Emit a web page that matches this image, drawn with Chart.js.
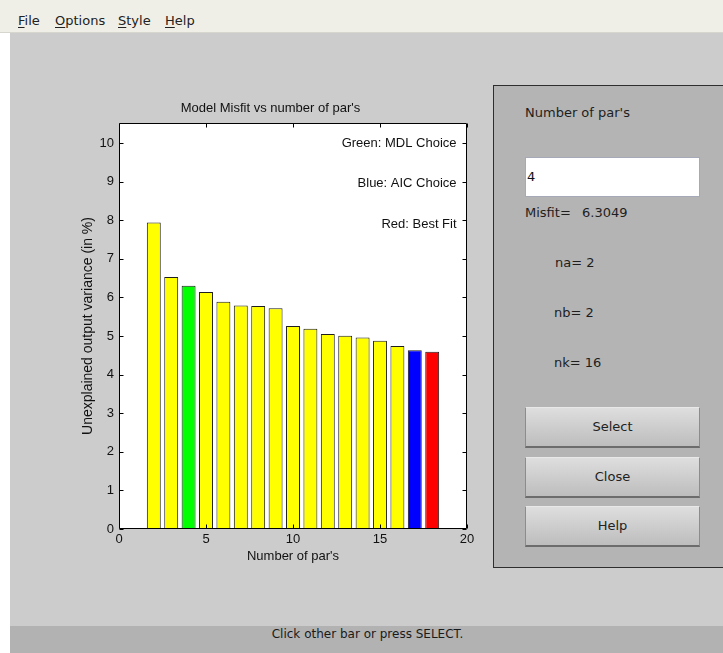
<!DOCTYPE html>
<html>
<head>
<meta charset="utf-8">
<script src="https://cdn.jsdelivr.net/npm/chart.js@4/dist/chart.umd.min.js"></script>
<style>
  html, body { margin: 0; padding: 0; }
  body { width: 723px; height: 653px; position: relative; overflow: hidden; background: #cccccc;
         font-family: "DejaVu Sans", sans-serif; font-size: 13px; color: #1a1a1a; }
  .abs { position: absolute; white-space: nowrap; }
  #menubar { left: 0; top: 0; width: 723px; height: 32px; background: #efefe8; border-bottom: 1px solid #d6d6cf; }
  #menubar span { position: absolute; top: 13px; line-height: 16px; color: #222; }
  #menubar u { text-decoration: underline; text-underline-offset: 2px; }
  #leftstrip { left: 0; top: 33px; width: 10px; height: 620px; background: #ffffff; }
  #plot { left: 74px; top: 95px; }
  #panel { left: 493px; top: 85px; width: 240px; height: 481px; background: #b4b4b4;
           border: 1px solid #2e2e2e; }
  .ptext { line-height: 16px; color: #1e1e1e; }
  #edit { left: 525px; top: 157px; width: 173px; height: 38px; background: #ffffff;
          border: 1px solid #a6aab8; }
  #edit span { position: absolute; left: 1px; top: 11px; line-height: 16px; color: #111; }
  .btn { left: 525px; width: 173px; height: 38px; border: 1px solid #8c8c8c; border-top-color: #e8e8e8;
         border-bottom: 2px solid #6c6c6c; background: linear-gradient(#dedede, #bdbdbd);
         text-align: center; line-height: 38px; color: #222; }
  #status { left: 10px; top: 626px; width: 713px; height: 27px; background: #b2b2b2;
            text-align: center; font-size: 12px; line-height: 16px; }
  #status span { position: absolute; left: 0; right: 0; top: 0; text-align: center; padding-left: 2px; }
</style>
</head>
<body>
<div id="menubar" class="abs">
  <span style="left:18px"><u>F</u>ile</span>
  <span style="left:55px"><u>O</u>ptions</span>
  <span style="left:118px"><u>S</u>tyle</span>
  <span style="left:165px"><u>H</u>elp</span>
</div>
<div id="leftstrip" class="abs"></div>

<canvas id="plot" class="abs" width="438" height="480"></canvas>

<div id="panel" class="abs"></div>
<div class="abs ptext" style="left:525px; top:105px">Number of par's</div>
<div id="edit" class="abs"><span id="editval"></span></div>
<div class="abs ptext" style="left:525px; top:205px">Misfit=</div>
<div class="abs ptext" style="left:582px; top:205px" id="misfitval"></div>
<div class="abs ptext" style="left:555px; top:255px" id="naval"></div>
<div class="abs ptext" style="left:554px; top:305px" id="nbval"></div>
<div class="abs ptext" style="left:554px; top:355px" id="nkval"></div>
<div class="abs btn" style="top:407px">Select</div>
<div class="abs btn" style="top:457px">Close</div>
<div class="abs btn" style="top:506px">Help</div>

<div id="status" class="abs"><span>Click other bar or press SELECT.</span></div>

<script>
// Number of model parameters and the matching misfit (unexplained output variance, %)
const parCounts = [2, 3, 4, 5, 6, 7, 8, 9, 10, 11, 12, 13, 14, 15, 16, 17, 18];
const misfitPct = [7.94, 6.53, 6.3049, 6.14, 5.89, 5.79, 5.78, 5.72, 5.26, 5.19, 5.05, 5.01, 4.96, 4.88, 4.74, 4.63, 4.59];

// Highlighted structures
const mdlChoice = 4;
const aicChoice = 17;
const bestFit = 18;

// Axis ticks
const xTicks = [0, 5, 10, 15, 20];
const yTicks = [0, 1, 2, 3, 4, 5, 6, 7, 8, 9, 10];
const yLimit = 10.52;

const legendNotes = ['Green: MDL Choice', 'Blue: AIC Choice', 'Red: Best Fit'];

// Current selection shown in the side panel
const selected = { n: 4, na: 2, nb: 2, nk: 16 };

document.getElementById('editval').textContent = String(selected.n);
document.getElementById('misfitval').textContent = String(misfitPct[parCounts.indexOf(selected.n)]);
document.getElementById('naval').textContent = 'na= ' + selected.na;
document.getElementById('nbval').textContent = 'nb= ' + selected.nb;
document.getElementById('nkval').textContent = 'nk= ' + selected.nk;

function barColor(n) {
  if (n === bestFit) return '#ff0000';
  if (n === aicChoice) return '#0000ff';
  if (n === mdlChoice) return '#00ff00';
  return '#ffff00';
}

const FONT = '"Liberation Sans", Arial, Helvetica, sans-serif';

// White axes background, boxed frame with inward ticks, and the colour key text
const axesFrame = {
  id: 'axesFrame',
  beforeDatasetsDraw(chart) {
    const { ctx, chartArea: a } = chart;
    ctx.save();
    ctx.fillStyle = '#ffffff';
    ctx.fillRect(a.left, a.top, a.right - a.left, a.bottom - a.top);
    ctx.restore();
  },
  afterDatasetsDraw(chart) {
    const { ctx, chartArea: a, scales: { x, y } } = chart;
    const L = Math.round(a.left) + 0.5, R = Math.round(a.right) - 0.5;
    const T = Math.round(a.top) + 0.5, B = Math.round(a.bottom) - 0.5;
    const tl = 4;
    ctx.save();
    ctx.strokeStyle = '#000000';
    ctx.lineWidth = 1;
    ctx.beginPath();
    ctx.rect(L, T, R - L, B - T);
    x.ticks.forEach(t => {
      const px = Math.round(x.getPixelForValue(t.value)) + 0.5;
      ctx.moveTo(px, B); ctx.lineTo(px, B - tl);
      ctx.moveTo(px, T); ctx.lineTo(px, T + tl);
    });
    y.ticks.forEach(t => {
      const py = Math.round(y.getPixelForValue(t.value)) + 0.5;
      ctx.moveTo(L, py); ctx.lineTo(L + tl, py);
      ctx.moveTo(R, py); ctx.lineTo(R - tl, py);
    });
    ctx.stroke();

    // Key text placed at fractions of the axis limits
    ctx.fillStyle = '#111111';
    ctx.font = '13px ' + FONT;
    ctx.textAlign = 'right';
    ctx.textBaseline = 'middle';
    const tx = x.getPixelForValue(x.max * 0.97);
    const fr = [0.95, 0.85, 0.75];
    legendNotes.forEach((s, i) => {
      ctx.fillText(s, tx, y.getPixelForValue(y.max * fr[i]));
    });
    ctx.restore();
  }
};

new Chart(document.getElementById('plot'), {
  type: 'bar',
  data: {
    datasets: [{
      data: parCounts.map((n, i) => ({ x: n, y: misfitPct[i] })),
      backgroundColor: parCounts.map(barColor),
      borderColor: '#1e1e1e',
      borderWidth: 1,
      borderSkipped: false,
      barPercentage: 0.8,
      categoryPercentage: 1.0
    }]
  },
  options: {
    responsive: false,
    animation: false,
    events: [],
    layout: { padding: { left: 0, right: 45, top: 0, bottom: 0 } },
    plugins: {
      legend: { display: false },
      tooltip: { enabled: false },
      title: {
        display: true,
        text: "Model Misfit vs number of par's",
        color: '#111111',
        font: { family: FONT, size: 13, weight: 'normal' },
        padding: { top: 6, bottom: 6.4 }
      }
    },
    scales: {
      x: {
        type: 'linear',
        offset: false,
        min: xTicks[0],
        max: xTicks[xTicks.length - 1],
        grid: { display: false, drawTicks: false, offset: false },
        border: { display: false },
        afterBuildTicks: s => { s.ticks = xTicks.map(v => ({ value: v })); },
        ticks: { color: '#111111', font: { family: FONT, size: 13 }, padding: 3, autoSkip: false, maxRotation: 0 },
        title: {
          display: true, text: "Number of par's", color: '#111111',
          font: { family: FONT, size: 13 }, padding: { top: 0, bottom: 11 }
        },
        afterFit: s => { s.height = 46; }
      },
      y: {
        type: 'linear',
        min: 0,
        max: yLimit,
        grid: { display: false, drawTicks: false },
        border: { display: false },
        afterBuildTicks: s => { s.ticks = yTicks.map(v => ({ value: v })); },
        ticks: { color: '#111111', font: { family: FONT, size: 13 }, padding: 5, autoSkip: false },
        title: {
          display: true, text: 'Unexplained output variance (in %)', color: '#111111',
          font: { family: FONT, size: 14 }, padding: { top: 6, bottom: 0 }
        },
        afterFit: s => { s.width = 45; }
      }
    }
  },
  plugins: [axesFrame]
});
</script>
</body>
</html>
